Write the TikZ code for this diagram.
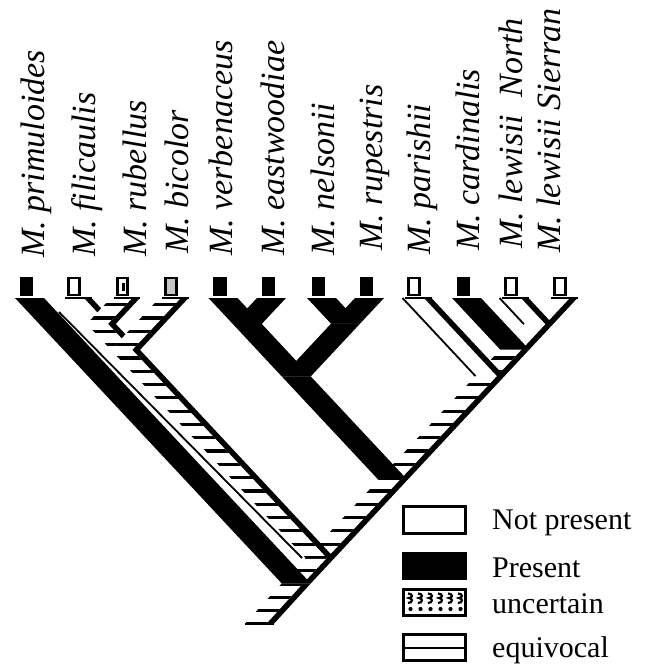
\documentclass[tikz,border=0pt]{standalone}
\usepackage{fontspec}
\setmainfont{Liberation Serif}
\usetikzlibrary{calc}
\tikzset{
  thinl/.style={line width=1.8pt},
  hatchl/.style={line width=3.2pt},
  boxl/.style={line width=2.4pt},
  lab/.style={rotate=90, anchor=base west, inner sep=0pt, font=\fontsize{34}{40}\selectfont\itshape},
  leg/.style={anchor=base west, inner sep=0pt, font=\fontsize{30}{36}\selectfont},
  tipbox/.style={minimum width=10.5pt, minimum height=17pt, inner sep=0pt, line width=2.6pt, draw=black},
}
\newcommand\bandseg[4]{($(#1)+(#3,0)$) -- ($(#2)+(#3,0)$) -- ($(#2)+(#4,0)$) -- ($(#1)+(#4,0)$) -- cycle}
\newcommand\presentband[2]{\fill[black] \bandseg{#1}{#2}{-14.5}{14.5};}
\newcommand\absentband[2]{\fill[white] \bandseg{#1}{#2}{-14.5}{7}; \fill[black] \bandseg{#1}{#2}{7}{14.5};}
\newcommand\leftedge[3]{\draw[thinl] ($(#1)+(#3,0)$) -- ($(#2)+(#3,0)$);}
\newcommand\equivband[2]{\fill[white] \bandseg{#1}{#2}{-14.5}{7};
  \begin{scope}\clip \bandseg{#1}{#2}{-14.5}{7};
  \foreach \hy in {304.7,318,...,631} {\draw[hatchl] (0,\hy) -- (647,\hy);}
  \end{scope}
  \fill[black] \bandseg{#1}{#2}{7}{14.5};}
\newcommand\tipbar[1]{\draw[boxl] ($(#1)+(-12,0)$) -- ($(#1)+(14.5,0)$);}
\begin{document}
\begin{tikzpicture}[x=1pt,y=-1pt]
\useasboundingbox (0,0) rectangle (647,666);
% tips (band centre lines)
\coordinate (pri) at (29.5,298);
\coordinate (fil) at (77,298);
\coordinate (rub) at (125.5,298);
\coordinate (bic) at (174,298);
\coordinate (ver) at (223,298);
\coordinate (eas) at (271.5,298);
\coordinate (nel) at (321.5,298);
\coordinate (rup) at (369.5,298);
\coordinate (par) at (417,298);
\coordinate (car) at (466.5,298);
\coordinate (lwN) at (514,298);
\coordinate (lwS) at (563,298);
% internal nodes
\coordinate (nfr) at (101.25,323.9);
\coordinate (nfrb) at (125.5,349.9);
\coordinate (nve) at (247.25,323.9);
\coordinate (nnr) at (345.5,323.7);
\coordinate (nvr) at (296.25,376.4);
\coordinate (nll) at (538.5,324.2);
\coordinate (ncl) at (514.75,349.6);
\coordinate (npl) at (490,376.1);
\coordinate (nvl) at (393,479.9);
\coordinate (nfl) at (320,558);
\coordinate (root) at (296.25,583.4);
\coordinate (base) at (259.25,624);

% spine
\absentband{nll}{lwS}
\absentband{ncl}{nll}
\equivband{npl}{ncl}
\equivband{nvl}{npl}
\equivband{nfl}{nvl}
\equivband{root}{nfl}
\equivband{base}{root}
\draw[boxl] ($(base)+(-14.5,0)$) -- ($(base)+(14.5,0)$);
\tipbar{lwS}

% primuloides
\presentband{root}{pri}

% filicaulis clade
\equivband{nfl}{nfrb}
\equivband{nfrb}{nfr}
\absentband{nfr}{fil}
\equivband{nfr}{rub}
\equivband{nfrb}{bic}
\draw[thinl] ($(fil)+(-18,14)$) -- ($(nfl)+(-18,0)$);
\tipbar{fil}
\tipbar{rub}
\tipbar{bic}

% verbenaceus - rupestris clade
\presentband{nvl}{nvr}
\presentband{nvr}{nve}
\presentband{nvr}{nnr}
\presentband{nve}{ver}
\presentband{nve}{eas}
\presentband{nnr}{nel}
\presentband{nnr}{rup}

% parishii - lewisii clade
\absentband{npl}{par}
\leftedge{npl}{par}{-14.5}
\tipbar{par}
\presentband{ncl}{car}
\absentband{nll}{lwN}
\leftedge{nll}{lwN}{-14.5}
\tipbar{lwN}

% tip boxes
\node[tipbox, fill=black] (Bpri) at (26.5,286.5) {};
\node[tipbox, fill=white] (Bfil) at (74,286.5) {};
\node[tipbox, fill=white] (Brub) at (122.5,286.5) {};
\fill ($(Brub.center)+(-1,-4)$) rectangle ($(Brub.center)+(2,4)$);
\node[tipbox, fill=gray!45] (Bbic) at (171,286.5) {};
\node[tipbox, fill=black] (Bver) at (220,286.5) {};
\node[tipbox, fill=black] (Beas) at (268.5,286.5) {};
\node[tipbox, fill=black] (Bnel) at (318.5,286.5) {};
\node[tipbox, fill=black] (Brup) at (366.5,286.5) {};
\node[tipbox, fill=white] (Bpar) at (414,286.5) {};
\node[tipbox, fill=black] (Bcar) at (463.5,286.5) {};
\node[tipbox, fill=white] (BlwN) at (511,286.5) {};
\node[tipbox, fill=white] (BlwS) at (560,286.5) {};

% taxon labels
\node[lab] (Lpri) at (44.5,258) {M. primuloides};
\node[lab] (Lfil) at (95.5,257) {M. filicaulis};
\node[lab] (Lrub) at (146.5,257) {M. rubellus};
\node[lab] (Lbic) at (188.5,254) {M. bicolor};
\node[lab] (Lver) at (232.5,256) {M. verbenaceus};
\node[lab] (Leas) at (284.5,256) {M. eastwoodiae};
\node[lab] (Lnel) at (334.5,256) {M. nelsonii};
\node[lab] (Lrup) at (382.5,251) {M. rupestris};
\node[lab] (Lpar) at (430.5,255) {M. parishii};
\node[lab] (Lcar) at (479.5,251) {M. cardinalis};
\node[lab] (LlwN) at (522.5,249) {M. lewisii\ \ North};
\node[lab] (LlwS) at (560.5,253) {M. lewisii Sierran};

% legend
\draw[line width=3pt, fill=white] (403.5,506.5) rectangle (465.5,533.5);
\node[leg] (T1) at (492,529) {Not present};
\fill[black] (402,552) rectangle (467,580);
\node[leg] (T2) at (492,577) {Present};
\draw[line width=3pt] (403.5,589.5) rectangle (465.5,615.5);
\foreach \ux in {408,418,428,438,448,458} {
  \draw[line width=2.2pt] (\ux,593.5) .. controls (\ux+5,593.5) and (\ux+5,598) .. (\ux+1,598) .. controls (\ux+5,598) and (\ux+5,603) .. (\ux,603);
  \fill (\ux+2.5,609) circle (2.1);
}
\node[leg] (T3) at (492,613) {uncertain};
\draw[line width=3pt] (403.5,634.5) rectangle (465.5,660.5);
\draw[line width=2.6pt] (403.5,648) -- (465.5,648);
\node[leg] (T4) at (492,657) {equivocal};
\end{tikzpicture}
\end{document}
